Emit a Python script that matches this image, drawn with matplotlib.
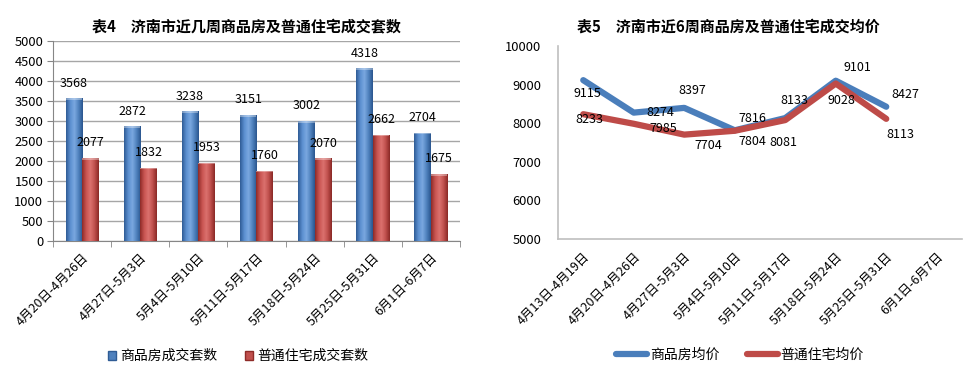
import matplotlib
matplotlib.use("Agg")
import matplotlib.pyplot as plt
import numpy as np
from matplotlib.colors import LinearSegmentedColormap
from matplotlib.patches import Rectangle

plt.rcParams['font.family'] = ['Noto Sans CJK SC', 'DejaVu Sans']

# ---- data ----
weeks_left = ["4月20日-4月26日", "4月27日-5月3日", "5月4日-5月10日", "5月11日-5月17日",
              "5月18日-5月24日", "5月25日-5月31日", "6月1日-6月7日"]
commercial_units = [3568, 2872, 3238, 3151, 3002, 4318, 2704]
ordinary_units = [2077, 1832, 1953, 1760, 2070, 2662, 1675]

weeks_right = ["4月13日-4月19日", "4月20日-4月26日", "4月27日-5月3日", "5月4日-5月10日",
               "5月11日-5月17日", "5月18日-5月24日", "5月25日-5月31日", "6月1日-6月7日"]
commercial_price = [9115, 8274, 8397, 7816, 8133, 9101, 8427]
ordinary_price = [8233, 7985, 7704, 7804, 8081, 9028, 8113]

title_left = "表4　济南市近几周商品房及普通住宅成交套数"
title_right = "表5　济南市近6周商品房及普通住宅成交均价"
legend_left = ["商品房成交套数", "普通住宅成交套数"]
legend_right = ["商品房均价", "普通住宅均价"]

BLUE = "#4F81BD"
RED = "#C0504D"
TICK_FS = 9.3
LBL_FS = 9
XL_FS = 9

W, H = 978, 369
fig = plt.figure(figsize=(W / 100, H / 100), dpi=100)

def ax_rect(x0, y0, x1, y1):
    return [x0 / W, 1 - y1 / H, (x1 - x0) / W, (y1 - y0) / H]

# ---- left chart ----
ax1 = fig.add_axes(ax_rect(53, 41, 460, 241))
n = len(weeks_left)
x = np.arange(n)
bw = 0.285
ax1.set_yticks(np.arange(0, 5001, 500))
ax1.yaxis.grid(True, color="#A6A6A6", linewidth=1)
ax1.set_axisbelow(True)

cmap_b = LinearSegmentedColormap.from_list("b", ["#2F5C95", "#5B8FD0", "#7AA8E0", "#4F81BD", "#2A568E"])
cmap_r = LinearSegmentedColormap.from_list("r", ["#8E2B28", "#C95552", "#DB716E", "#C0504D", "#8A2926"])
grad = np.linspace(0, 1, 64).reshape(1, -1)

def gbar(ax, xc, h, cmap, color):
    left = xc - bw / 2
    r = Rectangle((left, 0), bw, h, facecolor=color, edgecolor="none", zorder=2)
    ax.add_patch(r)
    im = ax.imshow(grad, cmap=cmap, aspect="auto", extent=(left, left + bw, 0, h), zorder=3)
    im.set_clip_path(r)
    ax.add_patch(Rectangle((left, h - 40), bw, 40, facecolor="#FFFFFF", alpha=0.35,
                           edgecolor="none", zorder=4))

for i in range(n):
    gbar(ax1, x[i] - bw / 2, commercial_units[i], cmap_b, BLUE)
    gbar(ax1, x[i] + bw / 2, ordinary_units[i], cmap_r, RED)
    ax1.annotate(str(commercial_units[i]), (x[i] - bw / 2, commercial_units[i]),
                 xytext=(0, 15), textcoords="offset pixels", ha="center", va="center", fontsize=LBL_FS)
    ax1.annotate(str(ordinary_units[i]), (x[i] + bw / 2, ordinary_units[i]),
                 xytext=(0, 15), textcoords="offset pixels", ha="center", va="center", fontsize=LBL_FS)
ax1.set_xlim(-0.5, n - 0.5)
ax1.set_ylim(0, 5000)

ax1.set_xticks(x)
ax1.set_xticklabels(weeks_left, rotation=45, ha="right", rotation_mode="anchor", fontsize=XL_FS)
ax1.set_xticks(np.arange(-0.5, n, 1), minor=True)
ax1.tick_params(axis="x", which="major", length=0, pad=7)
ax1.tick_params(axis="x", which="minor", length=4, color="#868686")
ax1.tick_params(axis="y", length=4, color="#868686", labelsize=TICK_FS, pad=3)
for s in ["top", "right"]:
    ax1.spines[s].set_visible(False)
ax1.spines["left"].set_color("#868686")
ax1.spines["bottom"].set_color("#868686")
fig.text(246 / W, 1 - 27 / H, title_left, ha="center", va="center", fontsize=10.8, fontweight="bold")

hb = Rectangle((0, 0), 1, 1, facecolor=BLUE, edgecolor="#2F5C95")
hr = Rectangle((0, 0), 1, 1, facecolor=RED, edgecolor="#8E2B28")
fig.legend([hb, hr], legend_left, loc="center", bbox_to_anchor=(238 / W, 1 - 356 / H),
           ncol=2, frameon=False, fontsize=10, handlelength=0.6, handleheight=0.6,
           handletextpad=0.3, columnspacing=2.0)

# ---- right chart ----
ax2 = fig.add_axes(ax_rect(558, 46, 962, 239))
m = len(weeks_right)
xr = np.arange(m)
ax2.set_xlim(-0.5, m - 0.5)
ax2.set_ylim(5000, 10000)
ax2.set_yticks(np.arange(5000, 10001, 1000))
xp = np.arange(len(commercial_price))
l1, = ax2.plot(xp, commercial_price, color="#4A7EBB", linewidth=4.5, solid_capstyle="round",
               solid_joinstyle="round")
l2, = ax2.plot(xp, ordinary_price, color="#BE4B48", linewidth=4.5, solid_capstyle="round",
               solid_joinstyle="round")

off_b = [(4, -13), (27, 0), (8, 17), (18, 12), (9, 18), (22, 13), (19, 12)]
off_r = [(6, -5), (30, -5), (24, -11), (18, -11), (-2, -22), (6, -17), (14, -16)]
for i in range(len(xp)):
    ax2.annotate(str(commercial_price[i]), (xp[i], commercial_price[i]), xytext=off_b[i],
                 textcoords="offset pixels", ha="center", va="center", fontsize=LBL_FS)
    ax2.annotate(str(ordinary_price[i]), (xp[i], ordinary_price[i]), xytext=off_r[i],
                 textcoords="offset pixels", ha="center", va="center", fontsize=LBL_FS)

ax2.set_xticks(xr)
ax2.set_xticklabels(weeks_right, rotation=45, ha="right", rotation_mode="anchor", fontsize=XL_FS)
ax2.tick_params(axis="x", length=0, pad=8)
ax2.tick_params(axis="y", length=0, labelsize=TICK_FS, pad=12)
for s in ["top", "right"]:
    ax2.spines[s].set_visible(False)
ax2.spines["left"].set_color("#BFBFBF")
ax2.spines["bottom"].set_color("#BFBFBF")
ax2.spines["left"].set_linewidth(1.2)
ax2.spines["bottom"].set_linewidth(1.2)
fig.text(728 / W, 1 - 27 / H, title_right, ha="center", va="center", fontsize=10.8, fontweight="bold")

fig.legend([l1, l2], legend_right, loc="center", bbox_to_anchor=(740 / W, 1 - 355 / H),
           ncol=2, frameon=False, fontsize=10, handlelength=2.2, handletextpad=0.2,
           columnspacing=2.0)

fig.savefig("out.png", dpi=100)
